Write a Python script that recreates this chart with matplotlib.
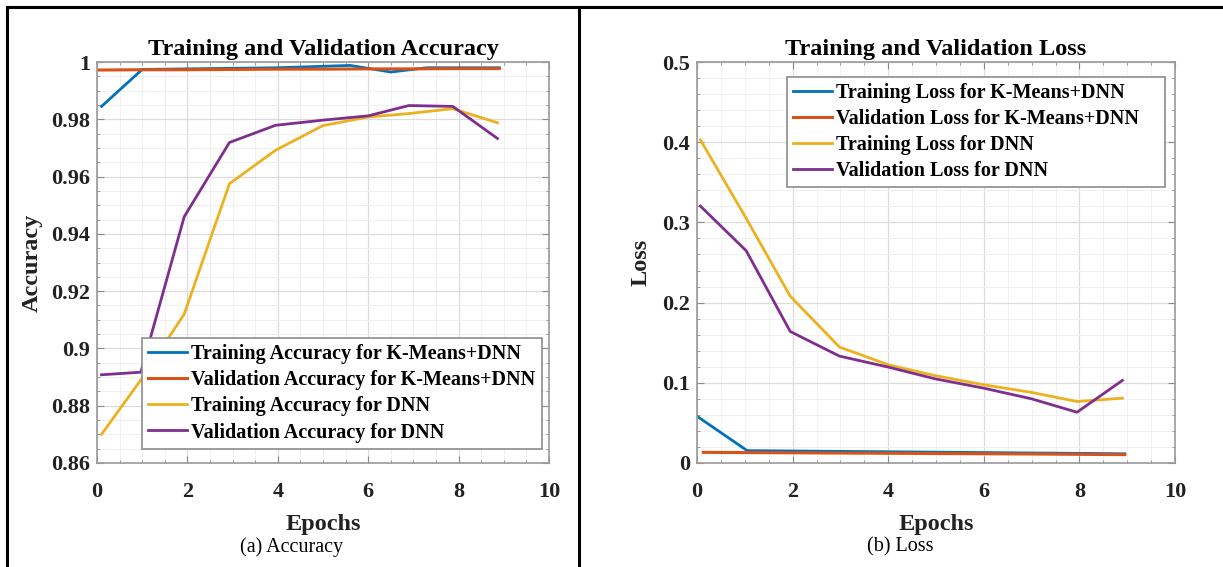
import matplotlib
matplotlib.use("Agg")
import matplotlib.pyplot as plt
from matplotlib.lines import Line2D
from matplotlib.ticker import MultipleLocator

# accuracy panel
acc_x = [0.1, 0.97, 1.93, 2.93, 3.95, 5.0, 6.0, 6.9, 7.87, 8.86]
acc_km_train_x = [0.1, 1.0, 2.0, 3.0, 4.0, 5.0, 5.6, 6.5, 7.3, 8.9]
acc_km_train = [0.9845, 0.9974, 0.9976, 0.9978, 0.998, 0.9985, 0.9988, 0.9965, 0.998, 0.998]
acc_km_val_x = [0.03, 1.0, 2.0, 3.0, 4.0, 5.0, 6.0, 7.0, 8.0, 8.9]
acc_km_val = [0.9972, 0.9973, 0.9973, 0.9974, 0.9975, 0.9975, 0.9976, 0.9976, 0.9977, 0.9977]
acc_dnn_train = [0.870, 0.889, 0.912, 0.9575, 0.9692, 0.9778, 0.9808, 0.982, 0.9837, 0.9788]
acc_dnn_val = [0.8908, 0.8917, 0.946, 0.9719, 0.9779, 0.9797, 0.9812, 0.9848, 0.9845, 0.9733]

# loss panel
loss_x = [0.07, 1.03, 1.95, 2.98, 4.0, 4.98, 6.0, 7.0, 7.95, 8.9]
loss_km_train_x = [0.0, 1.05, 2.0, 3.0, 4.0, 5.0, 6.0, 7.0, 8.0, 8.95]
loss_km_train = [0.0583, 0.0154, 0.015, 0.0145, 0.014, 0.0135, 0.013, 0.0125, 0.012, 0.0115]
loss_km_val_x = [0.13, 1.0, 2.0, 3.0, 4.0, 5.0, 6.0, 7.0, 8.0, 8.95]
loss_km_val = [0.0133, 0.013, 0.0127, 0.0124, 0.0121, 0.0118, 0.0115, 0.0112, 0.0108, 0.0104]
loss_dnn_train = [0.403, 0.305, 0.208, 0.1446, 0.1225, 0.109, 0.0975, 0.088, 0.0767, 0.0808]
loss_dnn_val = [0.3204, 0.2646, 0.164, 0.1333, 0.1196, 0.105, 0.0933, 0.080, 0.0633, 0.103]

colors = ["#0072BD", "#D95319", "#EDB120", "#7E2F8E"]
acc_labels = ["Training Accuracy for K-Means+DNN", "Validation Accuracy for K-Means+DNN",
              "Training Accuracy for DNN", "Validation Accuracy for DNN"]
loss_labels = ["Training Loss for K-Means+DNN", "Validation Loss for K-Means+DNN",
               "Training Loss for DNN", "Validation Loss for DNN"]

plt.rcParams['font.family'] = ['Liberation Serif', 'DejaVu Serif']
plt.rcParams['font.weight'] = 'bold'

W, H = 1223, 567
fig = plt.figure(figsize=(W / 100, H / 100), dpi=100)


def px_axes(x0, x1, y0, y1):
    return fig.add_axes([x0 / W, 1 - y1 / H, (x1 - x0) / W, (y1 - y0) / H])


def style(ax):
    for sp in ax.spines.values():
        sp.set_color("#9a9a9a")
        sp.set_linewidth(1.2)
    ax.grid(which="major", color="#dcdcdc", linewidth=0.9)
    ax.grid(which="minor", color="#f0f0f0", linewidth=0.7)
    ax.set_axisbelow(True)
    ax.tick_params(which="both", direction="in", top=True, right=True, color="#8a8a8a")
    ax.tick_params(which="major", length=5, labelsize=16, labelcolor="#222222")
    ax.tick_params(which="minor", length=2.5)
    ax.tick_params(axis="x", pad=14)
    ax.tick_params(axis="y", pad=5)


# left: accuracy
ax1 = px_axes(97, 549, 62, 463)
ax1.plot(acc_km_train_x, acc_km_train, color=colors[0], lw=2, label=acc_labels[0])
ax1.plot(acc_km_val_x, acc_km_val, color=colors[1], lw=2.2, label=acc_labels[1])
ax1.plot(acc_x, acc_dnn_train, color=colors[2], lw=2, label=acc_labels[2])
ax1.plot(acc_x, acc_dnn_val, color=colors[3], lw=2, label=acc_labels[3])
ax1.set_xlim(0, 10)
ax1.set_ylim(0.86, 1.0)
ax1.xaxis.set_minor_locator(MultipleLocator(0.5))
ax1.yaxis.set_minor_locator(MultipleLocator(0.005))
ax1.set_xticks([0, 2, 4, 6, 8, 10])
ax1.set_xticklabels(["0", "2", "4", "6", "8", "10"])
ax1.set_yticks([0.86, 0.88, 0.9, 0.92, 0.94, 0.96, 0.98, 1.0])
ax1.set_yticklabels(["0.86", "0.88", "0.9", "0.92", "0.94", "0.96", "0.98", "1"])
style(ax1)
ax1.set_title("Training and Validation Accuracy", fontsize=17.5, fontweight="bold", pad=5)
ax1.set_xlabel("Epochs", fontsize=17.5, fontweight="bold", labelpad=8, color="#222222")
ax1.set_ylabel("Accuracy", fontsize=17.5, fontweight="bold", labelpad=6, color="#222222")
leg1 = ax1.legend(loc="lower left", bbox_to_anchor=(0.1, 0.036, 0.884, 0.278), mode="expand",
                  fontsize=14.5, frameon=True, fancybox=False, framealpha=1,
                  edgecolor="#8c8c8c", handlelength=1.9, handletextpad=0.2,
                  labelspacing=0.3, borderpad=0.3, borderaxespad=0)
leg1.get_frame().set_linewidth(1.2)

# right: loss
ax2 = px_axes(697, 1175, 62, 463)
ax2.plot(loss_km_train_x, loss_km_train, color=colors[0], lw=2, label=loss_labels[0])
ax2.plot(loss_km_val_x, loss_km_val, color=colors[1], lw=2.2, label=loss_labels[1])
ax2.plot(loss_x, loss_dnn_train, color=colors[2], lw=2, label=loss_labels[2])
ax2.plot(loss_x, loss_dnn_val, color=colors[3], lw=2, label=loss_labels[3])
ax2.set_xlim(0, 10)
ax2.set_ylim(0, 0.5)
ax2.xaxis.set_minor_locator(MultipleLocator(0.5))
ax2.yaxis.set_minor_locator(MultipleLocator(0.02))
ax2.set_xticks([0, 2, 4, 6, 8, 10])
ax2.set_xticklabels(["0", "2", "4", "6", "8", "10"])
ax2.set_yticks([0, 0.1, 0.2, 0.3, 0.4, 0.5])
ax2.set_yticklabels(["0", "0.1", "0.2", "0.3", "0.4", "0.5"])
style(ax2)
ax2.set_title("Training and Validation Loss", fontsize=17.5, fontweight="bold", pad=5)
ax2.set_xlabel("Epochs", fontsize=17.5, fontweight="bold", labelpad=8, color="#222222")
ax2.set_ylabel("Loss", fontsize=17.5, fontweight="bold", labelpad=8, color="#222222")
leg2 = ax2.legend(loc="upper left", bbox_to_anchor=(0.189, 0.68, 0.791, 0.2825), mode="expand",
                  fontsize=14.5, frameon=True, fancybox=False, framealpha=1,
                  edgecolor="#8c8c8c", handlelength=1.9, handletextpad=0.2,
                  labelspacing=0.3, borderpad=0.3, borderaxespad=0)
leg2.get_frame().set_linewidth(1.2)

# captions
fig.text(292 / W, 1 - 547 / H, "(a) Accuracy", ha="center", va="center",
         fontsize=14.5, fontweight="normal")
fig.text(900 / W, 1 - 547 / H, "(b) Loss", ha="center", va="center",
         fontsize=14.5, fontweight="normal")

# table-like frame round the two panels
for xs, ys in [([6.5, 6.5], [7, H]), ([6.5, W], [7, 7]), ([579, 579], [7, H])]:
    fig.add_artist(Line2D([x / W for x in xs], [1 - y / H for y in ys],
                          color="black", lw=2.2, transform=fig.transFigure))

fig.savefig("out.png", dpi=100)
